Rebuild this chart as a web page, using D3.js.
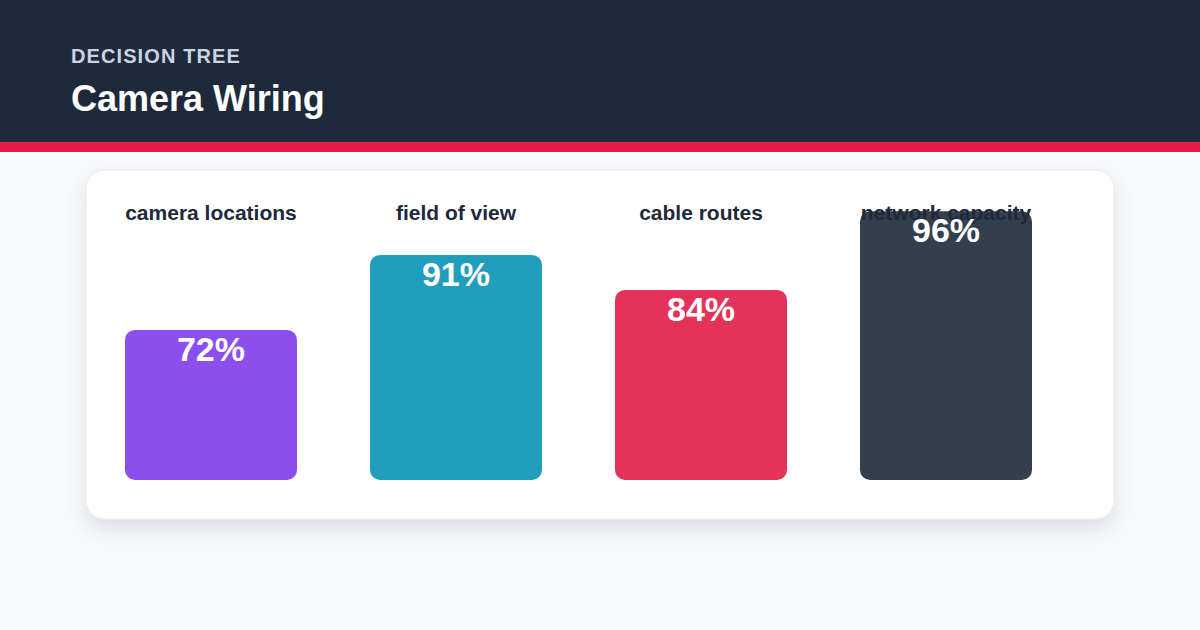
<!DOCTYPE html>
<html>
<head>
<meta charset="utf-8">
<script src="https://cdn.jsdelivr.net/npm/d3@7"></script>
<style>
  html, body { margin: 0; padding: 0; background: #f8fafc; }
  svg { display: block; font-family: "Liberation Sans", Arial, Helvetica, sans-serif; }
</style>
</head>
<body>
<div id="chart"></div>
<script>
// data
const kicker = "DECISION TREE";
const title = "Camera Wiring";
const categories = ["camera locations", "field of view", "cable routes", "network capacity"];
const values = [72, 91, 84, 96];            // printed labels (%)
const shown = [53.6, 80.4, 67.9, 96];        // bar heights as drawn (bars mid-grow)
const colors = ["#8b4fee", "#209ebc", "#e3335a", "#343f4d"];

const W = 1200, H = 630;

const svg = d3.select("#chart").append("svg")
    .attr("width", W)
    .attr("height", H);

const defs = svg.append("defs");
const shadow = defs.append("filter")
    .attr("id", "shadow")
    .attr("x", "-10%").attr("y", "-10%")
    .attr("width", "120%").attr("height", "135%");
shadow.append("feDropShadow")
    .attr("dx", 0).attr("dy", 10)
    .attr("stdDeviation", 11)
    .attr("flood-color", "#0f172a")
    .attr("flood-opacity", 0.11);

// header
svg.append("rect").attr("width", W).attr("height", H).attr("fill", "#f8fafc");
svg.append("rect").attr("width", W).attr("height", 142).attr("fill", "#1e293b");
svg.append("rect").attr("y", 142).attr("width", W).attr("height", 10).attr("fill", "#e11d48");

svg.append("text")
    .attr("x", 71).attr("y", 63)
    .attr("fill", "#cbd5e1")
    .style("font-size", "20px")
    .style("font-weight", "bold")
    .style("letter-spacing", "1.1px")
    .text(kicker);

svg.append("text")
    .attr("x", 71).attr("y", 111)
    .attr("fill", "#ffffff")
    .style("font-size", "36px")
    .style("font-weight", "bold")
    .text(title);

// card
svg.append("rect")
    .attr("x", 86).attr("y", 170)
    .attr("width", 1028).attr("height", 349)
    .attr("rx", 18)
    .attr("fill", "#ffffff")
    .attr("stroke", "#e2e8f0")
    .attr("stroke-width", 1)
    .attr("filter", "url(#shadow)");

const x = d3.scaleBand()
    .domain(categories)
    .range([125, 1032])
    .paddingInner(0.298)
    .paddingOuter(0);

const y = d3.scaleLinear()
    .domain([0, 100])
    .range([480, 200]);

const rows = categories.map((c, i) => ({cat: c, value: values[i], shown: shown[i], color: colors[i]}));

svg.selectAll(".bar")
    .data(rows)
  .enter().append("rect")
    .attr("class", "bar")
    .attr("x", d => x(d.cat))
    .attr("y", d => y(d.shown))
    .attr("width", x.bandwidth())
    .attr("height", d => y(0) - y(d.shown))
    .attr("rx", 10)
    .attr("fill", d => d.color);

svg.selectAll(".cat")
    .data(rows)
  .enter().append("text")
    .attr("class", "cat")
    .attr("x", d => x(d.cat) + x.bandwidth() / 2)
    .attr("y", 220)
    .attr("text-anchor", "middle")
    .attr("fill", "#1e293b")
    .style("font-size", "21px")
    .style("font-weight", "bold")
    .text(d => d.cat);

svg.selectAll(".labels")
    .data(rows)
  .enter().append("text")
    .attr("class", "labels")
    .attr("x", d => x(d.cat) + x.bandwidth() / 2)
    .attr("y", d => y(d.shown) + 31)
    .attr("text-anchor", "middle")
    .attr("fill", "#ffffff")
    .style("font-size", "34px")
    .style("font-weight", "bold")
    .text(d => d.value + "%");
</script>
</body>
</html>
